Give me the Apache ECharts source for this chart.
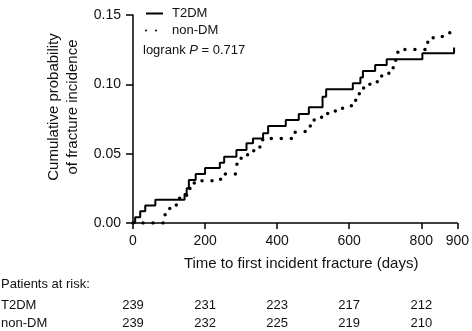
<!DOCTYPE html>
<html>
<head>
<meta charset="utf-8">
<script src="https://cdn.jsdelivr.net/npm/echarts@6/dist/echarts.min.js"></script>
<style>
  html, body { margin: 0; padding: 0; background: #fff; }
  #chart { width: 472px; height: 331px; }
</style>
</head>
<body>
<div id="chart"></div>
<script>
// Kaplan-Meier step data (time in days, cumulative probability)
const t2dmTime = [0, 6, 20, 34, 62, 143, 149, 155, 174, 200, 241, 253, 287, 315, 333, 361, 375, 424, 460, 488, 526, 536, 610, 631, 638, 672, 704, 803, 891]
const t2dmProb = [0, 0.0042, 0.0084, 0.0126, 0.0167, 0.021, 0.025, 0.031, 0.0353, 0.0397, 0.0435, 0.0478, 0.0526, 0.0575, 0.061, 0.0647, 0.0699, 0.0743, 0.0786, 0.0834, 0.091, 0.0964, 0.1007, 0.105, 0.1096, 0.1139, 0.118, 0.1224, 0.1265]

const nonDmTime = [0, 88, 92, 110, 128, 143, 158, 170, 243, 284, 289, 300, 318, 335, 352, 360, 450, 470, 486, 497, 515, 533, 552, 572, 595, 606, 618, 628, 640, 665, 690, 710, 722, 729, 735, 818, 833, 855, 875, 890]
const nonDmProb = [0, 0.0042, 0.0105, 0.013, 0.0178, 0.02, 0.0286, 0.0305, 0.0353, 0.038, 0.043, 0.0478, 0.0505, 0.0526, 0.0575, 0.061, 0.0654, 0.0665, 0.0699, 0.0743, 0.0762, 0.079, 0.0807, 0.0827, 0.0839, 0.088, 0.0923, 0.0959, 0.1, 0.1019, 0.1067, 0.1084, 0.1139, 0.1195, 0.1252, 0.1307, 0.1343, 0.1355, 0.1372, 0.1372]

// patients at risk table
const riskTimes = [0, 200, 400, 600, 800]
const t2dmRisk = [239, 231, 223, 217, 212]
const nonDmRisk = [239, 232, 225, 219, 210]

const font = 'Liberation Sans, Arial, Helvetica, sans-serif'
const ink = '#111'

const zip = (xs, ys) => xs.map((x, i) => [x, ys[i]])

const axisLine = { show: true, lineStyle: { color: '#000', width: 1.5 } }

const option = {
  animation: false,
  textStyle: { fontFamily: font, color: ink },
  grid: { left: 133, right: 14, top: 15, bottom: 108 },
  legend: {
    orient: 'vertical',
    left: 140,
    top: 2,
    itemWidth: 17,
    itemHeight: 14,
    itemGap: 4,
    itemStyle: { opacity: 0 },
    textStyle: { fontSize: 13, color: ink, padding: [0, 0, 0, 4] },
    data: ['T2DM', 'non-DM']
  },
  xAxis: {
    type: 'value',
    min: 0,
    max: 900,
    interval: 200,
    axisLine: axisLine,
    axisTick: { show: true, length: 6, lineStyle: { color: '#000', width: 1.5 } },
    axisLabel: { fontSize: 14, color: ink, margin: 11 },
    splitLine: { show: false },
    name: 'Time to first incident fracture (days)',
    nameLocation: 'middle',
    nameGap: 33,
    nameTextStyle: { fontSize: 15, color: ink, padding: [0, 0, 0, 12] }
  },
  yAxis: {
    type: 'value',
    min: 0,
    max: 0.15,
    interval: 0.05,
    axisLine: axisLine,
    axisTick: { show: true, length: 7, lineStyle: { color: '#000', width: 1.5 } },
    axisLabel: { fontSize: 14, color: ink, margin: 12, formatter: v => v.toFixed(2) },
    splitLine: { show: false },
    name: 'Cumulative probability\nof fracture incidence',
    nameLocation: 'middle',
    nameGap: 47,
    nameTextStyle: { fontSize: 15, color: ink, lineHeight: 19, padding: [0, 0, 0, 24] }
  },
  series: [
    {
      name: 'T2DM',
      type: 'line',
      step: 'end',
      symbol: 'none',
      lineStyle: { color: '#000', width: 2 },
      itemStyle: { color: '#000' },
      data: zip(t2dmTime, t2dmProb)
    },
    {
      name: 'non-DM',
      type: 'line',
      step: 'end',
      symbol: 'none',
      lineStyle: { color: '#000', width: 3.5, type: [0, 10], cap: 'round' },
      itemStyle: { color: '#000' },
      data: zip(nonDmTime, nonDmProb)
    }
  ]
}

const chart = echarts.init(document.getElementById('chart'))
chart.setOption(option)

// risk table + logrank note, placed with the chart's own x scale
const cols = riskTimes.map(t => chart.convertToPixel({ xAxisIndex: 0 }, t))
const cell = (text, x, y, align) => ({
  type: 'text',
  x: x,
  y: y,
  style: { text: text, font: '13px ' + font, fill: ink, align: align, verticalAlign: 'middle' }
})
const graphic = [
  {
    type: 'text',
    x: 143,
    y: 50,
    style: {
      text: '{n|logrank }{i|P}{n| = 0.717}',
      verticalAlign: 'middle',
      rich: {
        n: { fontSize: 13, fontFamily: font, fill: ink },
        i: { fontSize: 13, fontFamily: font, fontStyle: 'italic', fill: ink }
      }
    }
  },
  cell('Patients at risk:', 1, 284, 'left'),
  cell('T2DM', 1, 305, 'left'),
  cell('non-DM', 1, 323, 'left')
]
cols.forEach((x, i) => {
  graphic.push(cell(String(t2dmRisk[i]), x, 305, 'center'))
  graphic.push(cell(String(nonDmRisk[i]), x, 323, 'center'))
})
chart.setOption({ graphic: graphic })
</script>
</body>
</html>
